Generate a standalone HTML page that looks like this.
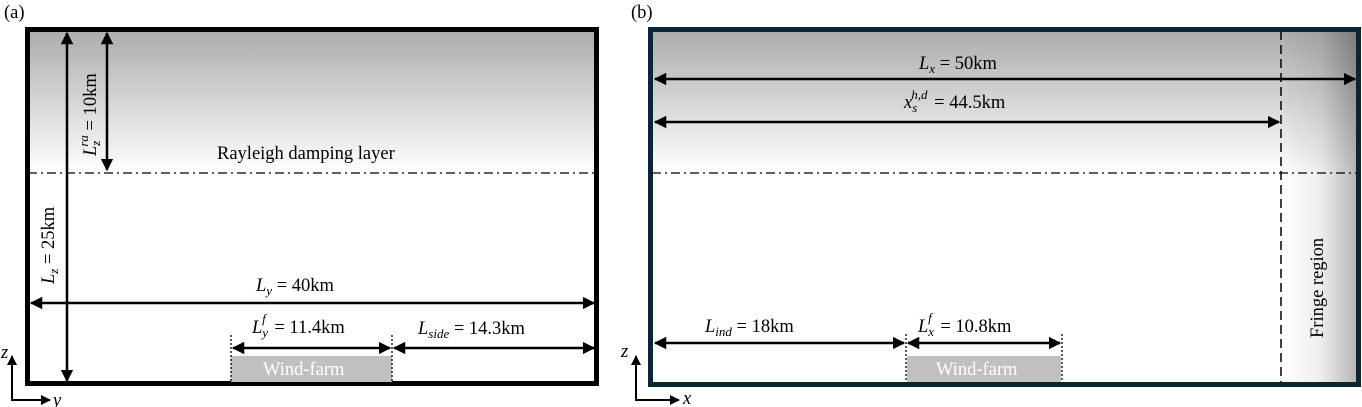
<!DOCTYPE html>
<html><head><meta charset="utf-8">
<style>
html,body{margin:0;padding:0;background:#fff;}
svg{display:block;}
text{font-family:"Liberation Serif",serif;font-size:18.5px;fill:#000;}
.m{font-style:italic;}
</style></head>
<body>
<svg width="1362" height="407" viewBox="0 0 1362 407" xmlns="http://www.w3.org/2000/svg">
<defs>
<linearGradient id="gv" x1="0" y1="0" x2="0" y2="1">
<stop offset="0" stop-color="#acacac"/>
<stop offset="1" stop-color="#ffffff"/>
</linearGradient>
<linearGradient id="gh" x1="0" y1="0" x2="1" y2="0">
<stop offset="0" stop-color="#ffffff"/>
<stop offset="0.5" stop-color="#eeeeee"/>
<stop offset="1" stop-color="#b4b4b4"/>
</linearGradient>
<marker id="ah" viewBox="0 0 10 10" refX="9" refY="5" markerWidth="5" markerHeight="5" orient="auto-start-reverse">
<path d="M0,0 L10,5 L0,10 z" fill="#000"/>
</marker>
</defs>

<!-- Panel a -->
<text x="4" y="18" font-size="20">(a)</text>
<rect x="28" y="30" width="568" height="143" fill="url(#gv)"/>
<line x1="28" y1="173" x2="596" y2="173" stroke="#000" stroke-width="1.3" stroke-dasharray="9,4,2,4"/>
<rect x="27.5" y="29.5" width="569" height="354" fill="none" stroke="#000" stroke-width="5"/>
<line x1="67" y1="33" x2="67" y2="381" stroke="#000" stroke-width="2.5" marker-start="url(#ah)" marker-end="url(#ah)"/>
<line x1="107" y1="33" x2="107" y2="170" stroke="#000" stroke-width="2.5" marker-start="url(#ah)" marker-end="url(#ah)"/>
<text transform="translate(54,284) rotate(-90)"><tspan class="m">L</tspan><tspan class="m" font-size="13" dy="4">z</tspan><tspan dy="-4"> = 25km</tspan></text>
<text transform="translate(96,156) rotate(-90)"><tspan class="m">L</tspan><tspan class="m" font-size="13" dy="4">z</tspan><tspan class="m" font-size="13" dy="-12" dx="-6">ra</tspan><tspan dy="8"> = 10km</tspan></text>
<text x="217" y="159">Rayleigh damping layer</text>
<line x1="31" y1="303" x2="594" y2="303" stroke="#000" stroke-width="2.5" marker-start="url(#ah)" marker-end="url(#ah)"/>
<text x="256" y="291"><tspan class="m">L</tspan><tspan class="m" font-size="13" dy="4">y</tspan><tspan dy="-4"> = 40km</tspan></text>
<rect x="231" y="356" width="161" height="26" fill="#c0c0c0"/>
<text x="263" y="375" style="fill:#fff">Wind-farm</text>
<line x1="231" y1="335" x2="231" y2="382" stroke="#000" stroke-width="1.3" stroke-dasharray="2,2"/>
<line x1="392" y1="335" x2="392" y2="382" stroke="#000" stroke-width="1.3" stroke-dasharray="2,2"/>
<line x1="233" y1="348" x2="390" y2="348" stroke="#000" stroke-width="2.5" marker-start="url(#ah)" marker-end="url(#ah)"/>
<line x1="394" y1="348" x2="594" y2="348" stroke="#000" stroke-width="2.5" marker-start="url(#ah)" marker-end="url(#ah)"/>
<text x="252" y="333"><tspan class="m">L</tspan><tspan class="m" font-size="13" dy="4">y</tspan><tspan class="m" font-size="13" dy="-14" dx="-6">f</tspan><tspan dy="10" dx="4"> = 11.4km</tspan></text>
<text x="418" y="334"><tspan class="m">L</tspan><tspan class="m" font-size="13" dy="4">side</tspan><tspan dy="-4"> = 14.3km</tspan></text>
<line x1="12" y1="401" x2="12" y2="356" stroke="#000" stroke-width="2" marker-end="url(#ah)"/>
<line x1="11" y1="400" x2="50" y2="400" stroke="#000" stroke-width="2" marker-end="url(#ah)"/>
<text class="m" x="1" y="358">z</text>
<text class="m" x="53" y="406">y</text>

<!-- Panel b -->
<text x="631" y="18" font-size="20">(b)</text>
<rect x="652" y="31" width="706" height="142" fill="url(#gv)"/>
<rect x="1282" y="31" width="76" height="352" fill="url(#gh)"/>
<rect x="1282" y="31" width="76" height="142" fill="url(#gv)" style="mix-blend-mode:multiply"/>
<line x1="652" y1="173" x2="1358" y2="173" stroke="#000" stroke-width="1.3" stroke-dasharray="9,4,2,4"/>
<line x1="1281" y1="31" x2="1281" y2="383" stroke="#000" stroke-width="1.5" stroke-dasharray="9,5"/>
<rect x="650.5" y="29.5" width="708" height="355" fill="none" stroke="#0b2535" stroke-width="5"/>
<line x1="655" y1="79" x2="1355" y2="79" stroke="#000" stroke-width="2.5" marker-start="url(#ah)" marker-end="url(#ah)"/>
<text x="919" y="69"><tspan class="m">L</tspan><tspan class="m" font-size="13" dy="4">x</tspan><tspan dy="-4"> = 50km</tspan></text>
<line x1="655" y1="122" x2="1279" y2="122" stroke="#000" stroke-width="2.5" marker-start="url(#ah)" marker-end="url(#ah)"/>
<text x="904" y="108"><tspan class="m">x</tspan><tspan class="m" font-size="13" dy="4">s</tspan><tspan class="m" font-size="13" dy="-13" dx="-6">h,d</tspan><tspan dy="9" dx="2"> = 44.5km</tspan></text>
<text transform="translate(1323,338) rotate(-90)">Fringe region</text>
<rect x="907" y="356" width="154" height="26" fill="#c0c0c0"/>
<text x="936" y="375" style="fill:#fff">Wind-farm</text>
<line x1="906" y1="334" x2="906" y2="382" stroke="#000" stroke-width="1.3" stroke-dasharray="2,2"/>
<line x1="1062" y1="334" x2="1062" y2="382" stroke="#000" stroke-width="1.3" stroke-dasharray="2,2"/>
<line x1="655" y1="343" x2="904" y2="343" stroke="#000" stroke-width="2.5" marker-start="url(#ah)" marker-end="url(#ah)"/>
<line x1="908" y1="343" x2="1060" y2="343" stroke="#000" stroke-width="2.5" marker-start="url(#ah)" marker-end="url(#ah)"/>
<text x="705" y="332"><tspan class="m">L</tspan><tspan class="m" font-size="13" dy="4">ind</tspan><tspan dy="-4"> = 18km</tspan></text>
<text x="918" y="332"><tspan class="m">L</tspan><tspan class="m" font-size="13" dy="4">x</tspan><tspan class="m" font-size="13" dy="-14" dx="-6">f</tspan><tspan dy="10" dx="4"> = 10.8km</tspan></text>
<line x1="636" y1="401" x2="636" y2="356" stroke="#000" stroke-width="2" marker-end="url(#ah)"/>
<line x1="635" y1="400" x2="679" y2="400" stroke="#000" stroke-width="2" marker-end="url(#ah)"/>
<text class="m" x="621" y="357">z</text>
<text class="m" x="683" y="404">x</text>
</svg>
</body></html>
